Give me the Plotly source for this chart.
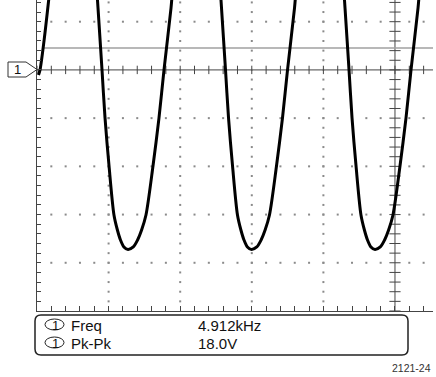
import numpy as np
import plotly.graph_objects as go

W, H = 436, 377
ML, MR, MT, MB = 37, 3, 0, 66
PW = W - ML - MR
PH = H - MT - MB

GRAT = "#444444"
DOT = "#8a8a8a"
FONT = "Liberation Sans, Arial, sans-serif"

# screen window in divisions (x from the centre graticule line, y from channel 1 ground)
X_RANGE = [-5.0, 0.531]
Y_RANGE = [-5.0, 1.45]

# channel 1 trace, in divisions; None = trace leaves the top of the screen
TRACE_X = [
    -4.979, -4.958, -4.902, -4.832, None,
    -4.158, -4.148, -4.092, -4.050, -3.994, -3.925, -3.877, -3.834, -3.786, -3.729,
    -3.655, -3.595, -3.539, -3.478, -3.380, -3.296, -3.226, -3.128, -3.115, None,
    -2.433, -2.423, -2.367, -2.325, -2.269, -2.200, -2.152, -2.109, -2.061, -2.004,
    -1.930, -1.870, -1.814, -1.753, -1.655, -1.571, -1.501, -1.403, -1.390, None,
    -0.708, -0.698, -0.642, -0.600, -0.544, -0.475, -0.427, -0.384, -0.336, -0.279,
    -0.205, -0.145, -0.089, -0.028, 0.070, 0.154, 0.224, 0.322, 0.335,
]
TRACE_Y = [
    -0.104, 0.000, 0.602, 1.515, None,
    1.515, 1.286, 0.000, -0.996, -1.992, -3.008, -3.320, -3.527, -3.672, -3.724,
    -3.672, -3.527, -3.320, -3.008, -1.992, -0.996, 0.000, 1.286, 1.515, None,
    1.515, 1.286, 0.000, -0.996, -1.992, -3.008, -3.320, -3.527, -3.672, -3.724,
    -3.672, -3.527, -3.320, -3.008, -1.992, -0.996, 0.000, 1.286, 1.515, None,
    1.515, 1.286, 0.000, -0.996, -1.992, -3.008, -3.320, -3.527, -3.672, -3.724,
    -3.672, -3.527, -3.320, -3.008, -1.992, -0.996, 0.000, 1.286, 1.515,
]

TRIGGER_LEVEL = 0.456
TRIGGER_START = -4.93

MEAS_CH = ["1", "1"]
MEAS_NAMES = ["Freq", "Pk-Pk"]
MEAS_VALUES = ["4.912kHz", "18.0V"]
FIG_ID = "2121-24"


def px_x(px):
    return (px - ML) / PW


def px_y(py):
    return (H - MB - py) / PH


def rounded_box(x0, y0, x1, y1, r):
    # pixel box -> paper path with rounded corners
    a, b, c, d = px_x(x0), px_y(y0), px_x(x1), px_y(y1)
    rx, ry = r / PW, r / PH
    return (
        f"M {a + rx},{b} L {c - rx},{b} Q {c},{b} {c},{b - ry} "
        f"L {c},{d + ry} Q {c},{d} {c - rx},{d} "
        f"L {a + rx},{d} Q {a},{d} {a},{d + ry} "
        f"L {a},{b - ry} Q {a},{b} {a + rx},{b} Z"
    )


def label(xp, yp, text, size, anchor="center", color="#111111"):
    return {
        "x": px_x(xp), "y": px_y(yp), "xref": "paper", "yref": "paper", "text": text,
        "xanchor": anchor, "yanchor": "middle", "showarrow": False,
        "font": {"size": size, "color": color, "family": FONT},
    }


fig = go.Figure()

# dotted graticule
dot_x, dot_y = [], []
for gx in [-4, -3, -2, -1]:
    for gy in np.arange(-4.8, Y_RANGE[1], 0.2):
        dot_x.append(gx)
        dot_y.append(gy)
for gy in [-4, -3, -2, -1, 1]:
    for gx in np.arange(-4.8, X_RANGE[1], 0.2):
        if abs(gx) > 1e-6:
            dot_x.append(gx)
            dot_y.append(gy)
fig.add_trace(
    go.Scatter(
        x=dot_x, y=dot_y, mode="markers",
        marker={"symbol": "square", "size": 2, "color": DOT, "line": {"width": 0}},
        hoverinfo="skip",
    )
)

# minor ticks on the centre cross
hx = np.arange(-5.0, X_RANGE[1], 0.2)
fig.add_trace(
    go.Scatter(
        x=hx, y=[0] * len(hx), mode="markers",
        marker={"symbol": "line-ns", "size": 6, "line": {"width": 1, "color": GRAT}},
        hoverinfo="skip",
    )
)
vy = np.arange(-5.0, Y_RANGE[1], 0.2)
fig.add_trace(
    go.Scatter(
        x=[0] * len(vy), y=vy, mode="markers",
        marker={"symbol": "line-ew", "size": 8, "line": {"width": 1, "color": GRAT}},
        hoverinfo="skip",
    )
)

# trigger level
fig.add_trace(
    go.Scatter(
        x=[TRIGGER_START, X_RANGE[1]], y=[TRIGGER_LEVEL, TRIGGER_LEVEL], mode="lines",
        line={"color": "#a0a0a0", "width": 1.5}, hoverinfo="skip",
    )
)

# channel 1
fig.add_trace(
    go.Scatter(
        x=TRACE_X, y=TRACE_Y, mode="lines",
        line={"color": "#000000", "width": 3, "shape": "spline", "smoothing": 0.8},
        connectgaps=False, hoverinfo="skip",
    )
)

shapes = [
    {"type": "line", "xref": "x", "yref": "y domain", "x0": 0, "x1": 0, "y0": 0, "y1": 1,
     "line": {"color": GRAT, "width": 1}, "layer": "below"},
    {"type": "line", "xref": "x domain", "yref": "y", "x0": 0, "x1": 1, "y0": 0, "y1": 0,
     "line": {"color": GRAT, "width": 1}, "layer": "below"},
    # channel 1 ground marker
    {"type": "path", "xref": "paper", "yref": "paper",
     "path": (f"M {px_x(8)},{px_y(62)} L {px_x(26)},{px_y(62)} L {px_x(37)},{px_y(69.5)} "
              f"L {px_x(26)},{px_y(77)} L {px_x(8)},{px_y(77)} Z"),
     "line": {"color": "#333333", "width": 1}, "fillcolor": "white"},
    # measurement readout
    {"type": "path", "xref": "paper", "yref": "paper", "path": rounded_box(35, 315, 408, 355, 6),
     "line": {"color": "#222222", "width": 1.5}},
]

annotations = [
    label(17, 69.5, "1", 13),
    label(433, 368, FIG_ID, 10.5, anchor="right", color="#333333"),
]

for i, (ch, name, val) in enumerate(zip(MEAS_CH, MEAS_NAMES, MEAS_VALUES)):
    cy = 324.5 + 18 * i
    shapes.append(
        {"type": "circle", "xref": "paper", "yref": "paper",
         "x0": px_x(45), "x1": px_x(64), "y0": px_y(cy - 5.5), "y1": px_y(cy + 5.5),
         "line": {"color": "#222222", "width": 1}}
    )
    annotations.append(label(55, cy + 0.5, ch, 13))
    annotations.append(label(69, cy + 1, name, 15, anchor="left"))
    annotations.append(label(196, cy + 1, val, 15, anchor="left"))

fig.update_layout(
    width=W, height=H,
    margin={"l": ML, "r": MR, "t": MT, "b": MB, "pad": 0},
    paper_bgcolor="white", plot_bgcolor="white",
    showlegend=False, hovermode=False,
    font={"family": FONT},
    shapes=shapes, annotations=annotations,
)
fig.update_xaxes(
    range=X_RANGE, showgrid=False, zeroline=False, showticklabels=False,
    showline=True, linecolor=GRAT, linewidth=1,
    ticks="inside", ticklen=5, tickwidth=1, tickcolor=GRAT, tick0=0, dtick=0.2,
    fixedrange=True,
)
fig.update_yaxes(
    range=Y_RANGE, showgrid=False, zeroline=False, showticklabels=False,
    showline=True, linecolor=GRAT, linewidth=1,
    ticks="inside", ticklen=4, tickwidth=1, tickcolor=GRAT, tick0=0, dtick=0.2,
    fixedrange=True,
)

# the page keeps the browser's default body margin otherwise
fig.write_html(
    "out.html",
    config={"displayModeBar": False, "staticPlot": True},
    post_script="document.body.style.margin = '0';",
)
